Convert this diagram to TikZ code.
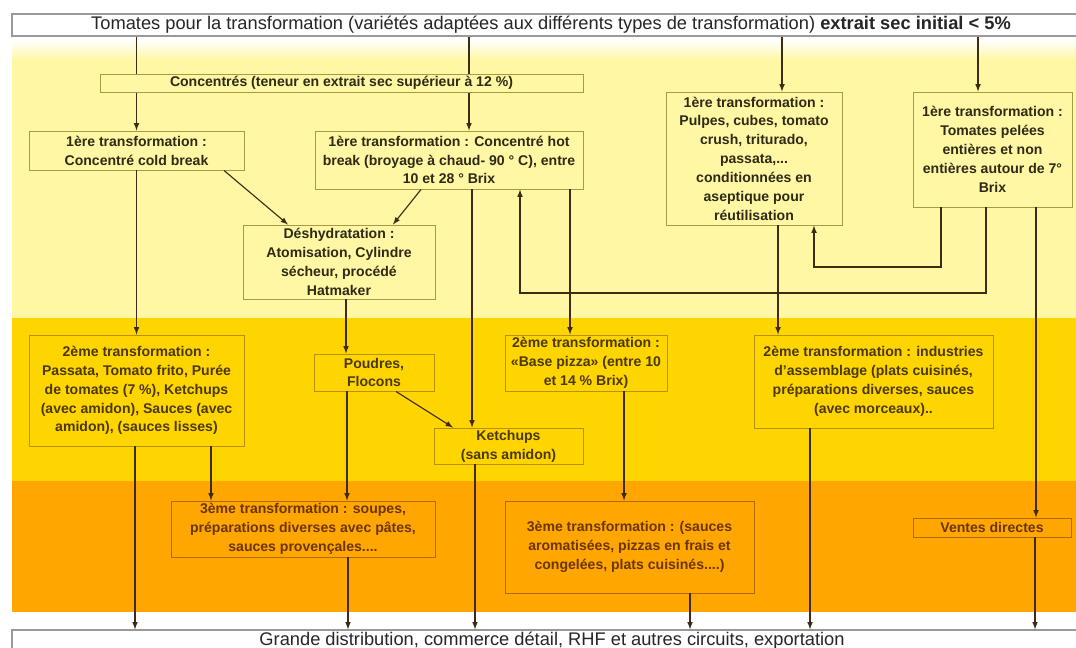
\documentclass[tikz,border=0pt]{standalone}
\usepackage{fontspec}
\setmainfont{Liberation Sans}
\usepackage{tikz}
\usetikzlibrary{arrows}

\definecolor{bandA}{HTML}{FFF7A4}
\definecolor{bandB}{HTML}{FFD500}
\definecolor{bandC}{HTML}{FFA700}
\definecolor{lineA}{HTML}{A99B45}
\definecolor{lineB}{HTML}{B8900C}
\definecolor{lineC}{HTML}{B06A00}
\definecolor{textA}{HTML}{2E2A15}
\definecolor{textB}{HTML}{4A3805}
\definecolor{textC}{HTML}{6A3500}
\definecolor{arrcol}{HTML}{3F2A12}

\begin{document}
\begin{tikzpicture}[x=0.25mm,y=-0.25mm,
  every node/.style={inner sep=0pt,align=center},
  sz/.style 2 args={minimum width=#1*0.25mm,minimum height=#2*0.25mm},
  boxA/.style={draw=lineA,fill=bandA,text=textA,line width=0.7pt,font=\fontsize{10}{13.4}\selectfont\bfseries},
  boxB/.style={boxA,draw=lineB,fill=bandB,text=textB},
  boxC/.style={boxA,draw=lineC,fill=bandC,text=textC},
  endbox/.style={draw=gray!80,fill=white,text=black!85,line width=0.9pt,font=\fontsize{13}{15}\selectfont},
  arr/.style={draw=arrcol,line width=0.8pt,-latex}]
\useasboundingbox (0,0) rectangle (1076,648);

\shade[top color=white,bottom color=bandA] (12,40) rectangle (1080,60);
\fill[bandA] (12,60) rectangle (1080,318);
\fill[bandB] (12,318) rectangle (1080,481);
\fill[bandC] (12,481) rectangle (1080,612);

\node[endbox,sz={1078}{22}] (title) at (551,25) {Tomates pour la transformation (variétés adaptées aux différents types de transformation) \textbf{extrait sec initial < 5\%}};
\node[boxA,sz={215}{39}] (cold) at (136.5,150.5) {1ère transformation :\\Concentré cold break};
\node[boxA,sz={268}{58}] (hot) at (449,160) {1ère transformation : Concentré hot\\break (broyage à chaud- 90 ° C), entre\\10 et 28 ° Brix};
\node[boxA,sz={176}{133}] (pulp) at (754,158.5) {1ère transformation :\\Pulpes, cubes, tomato\\crush, triturado,\\passata,...\\conditionnées en\\aseptique pour\\réutilisation};
\node[boxA,sz={159}{115}] (pelees) at (992.5,149.5) {1ère transformation :\\Tomates pelées\\entières et non\\entières autour de 7°\\Brix};
\node[boxA,sz={192}{74}] (dehyd) at (339,262) {Déshydratation :\\Atomisation, Cylindre\\sécheur, procédé\\Hatmaker};
\node[boxB,sz={215}{111}] (secA) at (136.5,390.5) {2ème transformation :\\Passata, Tomato frito, Purée\\de tomates (7 \%), Ketchups\\(avec amidon), Sauces (avec\\amidon), (sauces lisses)};
\node[boxB,sz={120}{37}] (poudres) at (374,372.5) {Poudres,\\Flocons};
\node[boxB,sz={149}{36}] (ketchup) at (508.5,446) {Ketchups\\(sans amidon)};
\node[boxB,sz={162}{56}] (pizza) at (586,363) {2ème transformation :\\«Base pizza» (entre 10\\et 14 \% Brix)};
\node[boxB,sz={239}{93}] (assemb) at (873.5,381.5) {2ème transformation : industries\\d'assemblage (plats cuisinés,\\préparations diverses, sauces\\(avec morceaux)..};
\node[boxC,sz={264}{56}] (thirdA) at (303,529) {3ème transformation : soupes,\\préparations diverses avec pâtes,\\sauces provençales....};
\node[boxC,sz={249}{92}] (thirdB) at (629.5,547) {3ème transformation : (sauces\\aromatisées, pizzas en frais et\\congelées, plats cuisinés....)};
\node[boxC,sz={158}{19}] (ventes) at (992,527.5) {Ventes directes};
\node[endbox,sz={1080}{22}] (bottom) at (552,641) {Grande distribution, commerce détail, RHF et autres circuits, exportation};

\draw[arr] (title.south -| cold.north) -- (cold.north);
\draw[arr] (469,0 |- title.south) -- (469,0 |- hot.north);
\draw[arr] (782,0 |- title.south) -- (782,0 |- pulp.north);
\draw[arr] (978,0 |- title.south) -- (978,0 |- pelees.north);
\draw[arr] (224,0 |- cold.south) -- (288,0 |- dehyd.north);
\draw[arr] (421,0 |- hot.south) -- (393,0 |- dehyd.north);
\draw[arr] (cold.south) -- (secA.north);
\draw[arr] (472,0 |- hot.south) -- (472,0 |- ketchup.north);
\draw[arr] (570,0 |- hot.south) -- (570,0 |- pizza.north);
\draw[arr] (986,0 |- pelees.south) -- (986,293) -| (520,0 |- hot.south);
\draw[arr] (941,0 |- pelees.south) -- (941,267) -| (814,0 |- pulp.south);
\draw[arr] (1036,0 |- pelees.south) -- (1036,0 |- ventes.north);
\draw[arr] (778,0 |- pulp.south) -- (778,0 |- assemb.north);
\draw[arr] (346,0 |- dehyd.south) -- (346,0 |- poudres.north);
\draw[arr] (396,0 |- poudres.south) -- (453,0 |- ketchup.north);
\draw[arr] (347,0 |- poudres.south) -- (347,0 |- thirdA.north);
\draw[arr] (211,0 |- secA.south) -- (211,0 |- thirdA.north);
\draw[arr] (135,0 |- secA.south) -- (135,0 |- bottom.north);
\draw[arr] (348,0 |- thirdA.south) -- (348,0 |- bottom.north);
\draw[arr] (475,0 |- ketchup.south) -- (475,0 |- bottom.north);
\draw[arr] (624,0 |- pizza.south) -- (624,0 |- thirdB.north);
\draw[arr] (690,0 |- thirdB.south) -- (690,0 |- bottom.north);
\draw[arr] (810,0 |- assemb.south) -- (810,0 |- bottom.north);
\draw[arr] (1035,0 |- ventes.south) -- (1035,0 |- bottom.north);

\node[boxA,sz={483}{18}] (conc) at (341.5,83) {Concentrés (teneur en extrait sec supérieur à 12 \%)};
\end{tikzpicture}
\end{document}
